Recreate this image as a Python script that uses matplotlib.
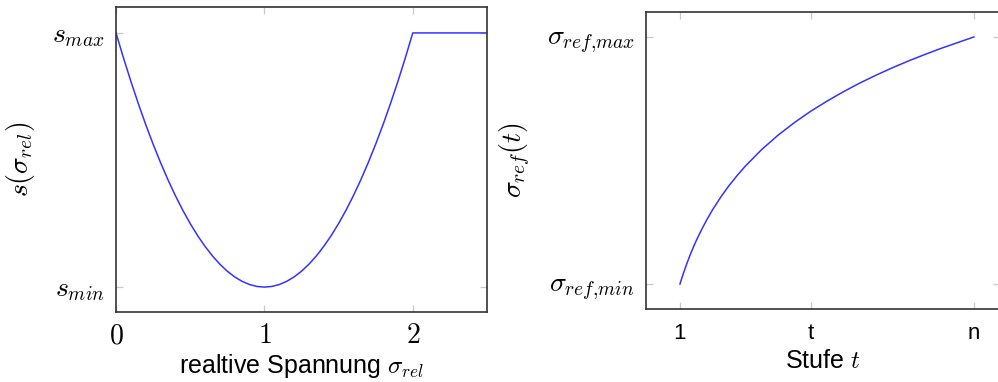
import numpy as np
import matplotlib.pyplot as plt

plt.rcParams['mathtext.fontset'] = 'cm'
plt.rcParams['font.family'] = ['Liberation Sans', 'DejaVu Sans']

# left panel: s(sigma_rel)
sig_rel = [0.0, 0.05, 0.1, 0.15, 0.2, 0.25, 0.3, 0.35, 0.4, 0.45, 0.5,
           0.55, 0.6, 0.65, 0.7, 0.75, 0.8, 0.85, 0.9, 0.95, 1.0,
           1.05, 1.1, 1.15, 1.2, 1.25, 1.3, 1.35, 1.4, 1.45, 1.5,
           1.55, 1.6, 1.65, 1.7, 1.75, 1.8, 1.85, 1.9, 1.95, 2.0, 2.5]
s_val = [1.0, 0.9025, 0.81, 0.7225, 0.64, 0.5625, 0.49, 0.4225, 0.36,
         0.3025, 0.25, 0.2025, 0.16, 0.1225, 0.09, 0.0625, 0.04, 0.0225,
         0.01, 0.0025, 0.0,
         0.0025, 0.01, 0.0225, 0.04, 0.0625, 0.09, 0.1225, 0.16, 0.2025,
         0.25, 0.3025, 0.36, 0.4225, 0.49, 0.5625, 0.64, 0.7225, 0.81,
         0.9025, 1.0, 1.0]
s_ticks = [0.0, 1.0]
s_ticklabels = [r'$s_{min}$', r'$s_{max}$']
rel_ticks = [0, 1, 2]

# right panel: sigma_ref(t)
stufe = [1, 1.05, 1.1, 1.2, 1.3, 1.4, 1.5, 1.65, 1.8, 2, 2.25, 2.5, 2.75,
         3, 3.5, 4, 4.5, 5, 5.5, 6, 6.5, 7, 7.5, 8, 8.5, 9, 9.5, 10]
sig_ref = [0.0, 0.021, 0.041, 0.079, 0.114, 0.146, 0.176, 0.217, 0.255,
           0.301, 0.352, 0.398, 0.439, 0.477, 0.544, 0.602, 0.653, 0.699,
           0.740, 0.778, 0.813, 0.845, 0.875, 0.903, 0.929, 0.954, 0.977,
           1.0]
t_ticks = [1, 5, 10]
t_ticklabels = ['1', 't', 'n']
ref_ticks = [0.0, 1.0]
ref_ticklabels = [r'$\sigma_{ref{,}min}$', r'$\sigma_{ref{,}max}$']

fig = plt.figure(figsize=(9.98, 3.82), dpi=100)
ax1 = fig.add_axes([116/998, 70/382, 371/998, 305/382])
ax2 = fig.add_axes([646/998, 73/382, 354/998, 297/382])


def style(ax):
    for sp in ax.spines.values():
        sp.set_linewidth(1.2)
        sp.set_color('#333333')
    ax.tick_params(direction='in', length=5, width=0.9, color='#c8c8c8',
                   top=True, right=True, pad=8)


ax1.plot(sig_rel, s_val, color='#3333ff', lw=1.1)
ax1.set_xlim(0, 2.5)
ax1.set_ylim(-0.098, 1.102)
ax1.set_xticks(rel_ticks)
ax1.set_xticklabels([f'${v}$' for v in rel_ticks], fontsize=20)
ax1.set_yticks(s_ticks)
ax1.set_yticklabels(s_ticklabels, fontsize=20)
ax1.set_xlabel(r'realtive Spannung $\sigma_{rel}$', fontsize=18, labelpad=2)
ax1.set_ylabel(r'$s(\sigma_{rel})$', fontsize=20, labelpad=11)
style(ax1)

ax2.plot(stufe, sig_ref, color='#3333ff', lw=1.1)
ax2.set_xlim(-0.04, 10.8)
ax2.set_ylim(-0.101, 1.101)
ax2.set_xticks(t_ticks)
ax2.set_xticklabels(t_ticklabels, fontsize=16)
ax2.set_yticks(ref_ticks)
ax2.set_yticklabels(ref_ticklabels, fontsize=20)
ax2.set_xlabel(r'Stufe $t$', fontsize=18, labelpad=4)
ax2.set_ylabel(r'$\sigma_{ref}(t)$', fontsize=20, labelpad=10)
style(ax2)
ax2.tick_params(axis='x', pad=10)

fig.savefig('out.png', dpi=100)
